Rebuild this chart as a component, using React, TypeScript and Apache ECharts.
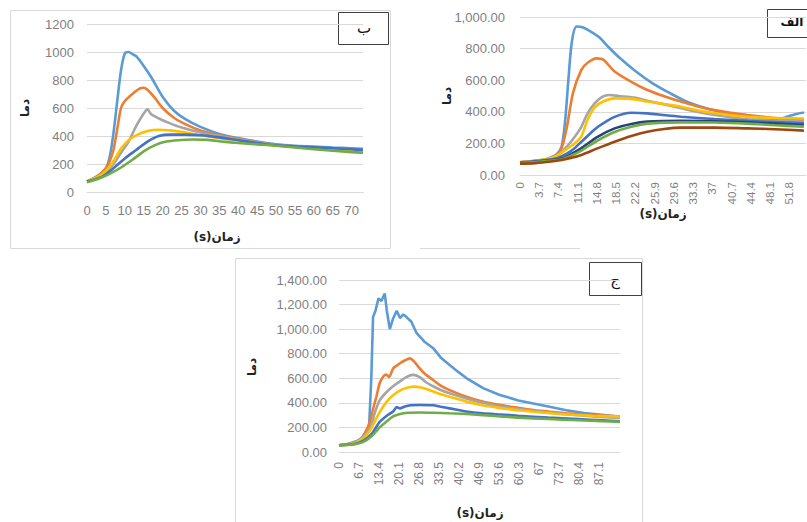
import React, { useEffect, useRef } from "react";
import * as echarts from "echarts";

// ---------- Chart "ب" (top left) ----------
const bTicksX = [0, 5, 10, 15, 20, 25, 30, 35, 40, 45, 50, 55, 60, 65, 70];
const bLightBlue = [[0,75],[3,120],[5,170],[6,250],[7,420],[8,650],[9,870],[10,990],[11,1000],[12,985],[13,970],[15,900],[17,820],[20,680],[23,580],[26,520],[30,465],[35,415],[40,385],[45,360],[50,340],[55,330],[60,325],[65,318],[70,312],[73,308]];
const bOrange = [[0,75],[3,115],[5,170],[6,220],[7,300],[8,450],[9,600],[10,650],[12,700],[14,740],[15,745],[16,730],[18,670],[20,600],[23,530],[26,485],[30,440],[35,405],[40,380],[45,355],[50,335],[55,325],[60,318],[65,305],[70,295],[73,290]];
const bGray = [[0,75],[4,120],[7,200],[9,280],[11,360],[13,470],[15,560],[16,590],[17,555],[19,525],[22,490],[25,460],[30,425],[35,400],[40,375],[45,352],[50,335],[60,318],[70,295],[73,290]];
const bYellow = [[0,75],[3,110],[5,150],[7,220],[9,310],[11,370],[13,405],[16,435],[19,445],[22,440],[25,430],[30,405],[35,385],[40,370],[45,350],[50,332],[60,315],[70,290],[73,285]];
const bBlue = [[0,75],[4,110],[7,170],[10,240],[13,300],[16,360],[19,400],[22,410],[26,410],[30,405],[35,390],[40,370],[45,350],[50,333],[60,320],[70,305],[73,300]];
const bGreen = [[0,70],[3,95],[6,130],[9,175],[12,230],[15,290],[18,335],[21,360],[24,370],[28,375],[32,372],[36,360],[40,350],[45,340],[50,330],[60,305],[70,285],[73,280]];

// ---------- Chart "الف" (top right) ----------
const aLightBlue = [[0,80],[3,85],[5,100],[7,130],[8,180],[8.7,350],[9.3,600],[10,850],[10.9,940],[12,935],[14,900],[15.3,870],[17,810],[19.2,740],[22.3,655],[25.5,580],[29,515],[32,465],[35,430],[38.3,400],[41,385],[44.7,368],[47,358],[49.8,355],[51.5,370],[53,385],[54.6,395]];
const aOrange = [[0,80],[5,100],[7,125],[8,170],[9,300],[10.2,520],[11.8,665],[13,710],[14.7,738],[16,730],[18.2,655],[21.4,590],[24.5,538],[28,495],[31,464],[34,435],[37.4,411],[40.5,393],[43.7,380],[47,368],[50,358],[54.6,348]];
const aGray = [[0,80],[5,100],[7,120],[9,180],[10.5,240],[11.8,305],[13,390],[14.4,455],[15.8,495],[17.2,506],[19,500],[22,490],[24.5,470],[28,445],[31,422],[34,400],[37.4,380],[40.5,366],[43.7,353],[48,345],[54.6,337]];
const aYellow = [[0,80],[5,100],[7,120],[9,165],[10.5,200],[11.8,245],[13,350],[14.4,430],[16,465],[18.2,485],[21.4,482],[24.5,465],[28,448],[31,432],[34,410],[37.4,392],[40.5,378],[43.7,369],[48,362],[54.6,358]];
const aBlue = [[0,80],[5,95],[7,105],[9,135],[10.5,170],[11.8,210],[13.4,260],[15,305],[16.6,340],[18.2,368],[20,388],[21.4,394],[24.5,390],[28,378],[31,369],[37.4,354],[43.7,343],[49,335],[54.6,327]];
const aNavy = [[0,75],[5,90],[8,105],[10,135],[11.8,170],[15,243],[18.2,295],[21.4,323],[24.5,338],[31,343],[37.4,340],[43.7,333],[49,325],[54.6,316]];
const aGreen = [[0,75],[5,88],[8,100],[10,125],[11.8,155],[15,220],[18.2,272],[21.4,305],[24.5,325],[31,333],[37.4,332],[43.7,325],[49,315],[54.6,306]];
const aBrown = [[0,72],[3,75],[6,85],[8,95],[10,110],[11.8,127],[15,170],[18.2,211],[21.4,247],[24.5,274],[27.7,291],[31,300],[37.4,300],[43.7,295],[49,290],[54.6,281]];

// ---------- Chart "ج" (bottom) ----------
const cLightBlue = [[0,55],[3,65],[6,90],[8.6,125],[10,170],[10.8,600],[11.4,1100],[12.2,1150],[13.2,1250],[14.2,1230],[15.3,1290],[16,1150],[17,1000],[18,1080],[19.3,1150],[20.4,1090],[21.5,1120],[22.5,1100],[24.2,1060],[25.9,970],[28.5,900],[31.5,845],[34,770],[37,708],[40,650],[42.6,602],[48.2,520],[53.8,464],[60,420],[65,395],[70,370],[76,340],[82,318],[87,305],[92,292],[94,287]];
const cOrange = [[0,55],[4,70],[7,100],[9,170],[10.5,260],[11.4,350],[12.5,450],[13.6,560],[15,620],[15.8,630],[16.8,610],[18.1,680],[20.4,722],[22,745],[23.7,762],[25,740],[27,681],[29,630],[31.5,586],[34,540],[37,504],[42.6,450],[48,410],[54,382],[60,360],[65,342],[70,330],[76,315],[85,300],[94,290]];
const cGray = [[0,55],[5,75],[8,120],[10.5,200],[12,320],[13.6,420],[16,490],[18.1,535],[20.4,575],[22.5,610],[24.7,628],[27,610],[29,570],[31.5,535],[34,505],[37,478],[42.6,436],[48,400],[54,370],[60,350],[65,335],[76,307],[85,290],[94,277]];
const cYellow = [[0,55],[5,70],[8,110],[10.5,180],[12,250],[13.6,325],[16,410],[18.1,462],[20.4,500],[22.5,520],[25,532],[27.5,525],[29.5,510],[31.5,492],[34,470],[37,450],[42.6,410],[48,380],[54,357],[60,340],[65,328],[76,305],[85,295],[94,288]];
const cBlue = [[0,55],[5,65],[8,90],[11,150],[13.6,245],[16,295],[18.1,330],[19.3,365],[20.4,355],[22,370],[24,380],[27,383],[31.5,380],[34,368],[37,355],[42.6,330],[48,315],[54,305],[60,295],[70,280],[80,268],[88,258],[94,250]];
const cGreen = [[0,55],[5,62],[8,80],[11,130],[13.6,200],[16,250],[18.1,290],[20.4,310],[23,320],[27,322],[31.5,320],[37,315],[42.6,310],[48,300],[54,290],[60,280],[70,268],[80,258],[88,250],[94,245]];

const COLORS = {
  lightBlue: "#5B9BD5",
  orange: "#ED7D31",
  gray: "#A5A5A5",
  gold: "#FFC000",
  blue: "#4472C4",
  green: "#70AD47",
  navy: "#264478",
  brown: "#9E480E",
};

const LABEL_FONT = "Liberation Sans";
const LABEL_COLOR = "#7f7f7f";
const GRID_COLOR = "#d9d9d9";

function fmt2(v: number) {
  return v.toLocaleString("en-US", { minimumFractionDigits: 2, maximumFractionDigits: 2 });
}

function tickLabel(step: number, last: number) {
  return (v: number) => {
    const k = Math.round(v / step);
    if (Math.abs(k * step - v) > 1e-6 || v > last + 1e-6) return "";
    return String(Number(v.toFixed(1)));
  };
}

function line(name: string, data: number[][], color: string, idx: number, smooth: number | boolean = 0.3) {
  return {
    type: "line",
    name,
    data,
    xAxisIndex: idx,
    yAxisIndex: idx,
    symbol: "none",
    smooth,
    lineStyle: { color, width: 2.6 },
    itemStyle: { color },
  };
}

export default function App() {
  const ref = useRef<HTMLDivElement>(null);
  useEffect(() => {
    if (!ref.current) return;
    const chart = echarts.init(ref.current, undefined, { renderer: "svg" });
    const yLabel = { fontFamily: LABEL_FONT, fontSize: 13, color: LABEL_COLOR };
    const splitLine = { show: true, lineStyle: { color: GRID_COLOR, width: 1 } };
    const axisLine = { show: true, lineStyle: { color: GRID_COLOR, width: 1 } };
    const titleStyle = (text: string) => ({
      text,
      font: 'bold 12px "DejaVu Sans"',
      fill: "#222",
      align: "center",
      verticalAlign: "middle",
    });
    chart.setOption({
      animation: false,
      backgroundColor: "#ffffff",
      grid: [
        { left: 87, top: 24, width: 276, height: 168 },
        { left: 520, top: 17, width: 286, height: 158 },
        { left: 339, top: 280, width: 281, height: 172 },
      ],
      xAxis: [
        {
          type: "value", gridIndex: 0, min: 0, max: 73, interval: 5,
          axisLine, axisTick: { show: false }, splitLine: { show: false },
          axisLabel: { ...yLabel, margin: 12, formatter: tickLabel(5, 70) },
        },
        {
          type: "value", gridIndex: 1, min: 0, max: 55, interval: 3.7,
          axisLine, axisTick: { show: false }, splitLine: { show: false },
          axisLabel: { ...yLabel, fontSize: 11.5, rotate: 90, margin: 7, formatter: tickLabel(3.7, 52) },
        },
        {
          type: "value", gridIndex: 2, min: 0, max: 94, interval: 6.7,
          axisLine, axisTick: { show: false }, splitLine: { show: false },
          axisLabel: { ...yLabel, fontSize: 12, rotate: 90, margin: 10, formatter: tickLabel(6.7, 88) },
        },
      ],
      yAxis: [
        {
          type: "value", gridIndex: 0, min: 0, max: 1200, interval: 200,
          axisLine: { show: false }, axisTick: { show: false }, splitLine,
          axisLabel: { ...yLabel, margin: 13, formatter: (v: number) => String(v) },
        },
        {
          type: "value", gridIndex: 1, min: 0, max: 1000, interval: 200,
          axisLine: { show: false }, axisTick: { show: false }, splitLine,
          axisLabel: { ...yLabel, margin: 15, formatter: (v: number) => fmt2(v) },
        },
        {
          type: "value", gridIndex: 2, min: 0, max: 1400, interval: 200,
          axisLine: { show: false }, axisTick: { show: false }, splitLine,
          axisLabel: { ...yLabel, margin: 12, formatter: (v: number) => fmt2(v) },
        },
      ],
      series: [
        line("b1", bLightBlue, COLORS.lightBlue, 0),
        line("b2", bOrange, COLORS.orange, 0),
        line("b3", bGray, COLORS.gray, 0),
        line("b4", bYellow, COLORS.gold, 0),
        line("b5", bBlue, COLORS.blue, 0),
        line("b6", bGreen, COLORS.green, 0),
        line("a1", aLightBlue, COLORS.lightBlue, 1),
        line("a2", aOrange, COLORS.orange, 1),
        line("a3", aGray, COLORS.gray, 1),
        line("a4", aYellow, COLORS.gold, 1),
        line("a5", aBlue, COLORS.blue, 1),
        line("a6", aNavy, COLORS.navy, 1),
        line("a7", aGreen, COLORS.green, 1),
        line("a8", aBrown, COLORS.brown, 1),
        line("c1", cLightBlue, COLORS.lightBlue, 2, false),
        line("c2", cOrange, COLORS.orange, 2, 0.2),
        line("c3", cGray, COLORS.gray, 2),
        line("c4", cYellow, COLORS.gold, 2),
        line("c5", cBlue, COLORS.blue, 2, 0.2),
        line("c6", cGreen, COLORS.green, 2),
      ],
      graphic: [
        // frames
        { type: "rect", shape: { x: 10.5, y: 10.5, width: 380, height: 238 }, style: { fill: "none", stroke: GRID_COLOR, lineWidth: 1 } },
        { type: "line", shape: { x1: 420, y1: 248.5, x2: 580, y2: 248.5 }, style: { stroke: GRID_COLOR, lineWidth: 1 } },
        { type: "rect", shape: { x: 235.5, y: 258.5, width: 407, height: 280 }, style: { fill: "none", stroke: GRID_COLOR, lineWidth: 1 } },
        // label boxes
        { type: "rect", shape: { x: 338.5, y: 12.5, width: 50, height: 32 }, style: { fill: "#fff", stroke: "#404040", lineWidth: 1 } },
        { type: "text", x: 364, y: 28, style: { text: "ب", font: '15px "DejaVu Sans"', fill: "#111", align: "center", verticalAlign: "middle" } },
        { type: "rect", shape: { x: 767.5, y: 9.5, width: 60, height: 28 }, style: { fill: "#fff", stroke: "#404040", lineWidth: 1 } },
        { type: "text", x: 792, y: 22, style: { text: "الف", font: 'bold 12px "DejaVu Sans"', fill: "#111", align: "center", verticalAlign: "middle" } },
        { type: "rect", shape: { x: 589.5, y: 262.5, width: 52, height: 33 }, style: { fill: "#fff", stroke: "#404040", lineWidth: 1 } },
        { type: "text", x: 615, y: 280, style: { text: "ج", font: '15px "DejaVu Sans"', fill: "#111", align: "center", verticalAlign: "middle" } },
        // axis titles
        { type: "text", x: 217, y: 237, style: titleStyle("(s)زمان") },
        { type: "text", x: 663, y: 214, style: titleStyle("(s)زمان") },
        { type: "text", x: 480, y: 513, style: titleStyle("(s)زمان") },
        { type: "text", x: 25, y: 108, rotation: Math.PI / 2, style: titleStyle("دما") },
        { type: "text", x: 447, y: 96, rotation: Math.PI / 2, style: titleStyle("دما") },
        { type: "text", x: 252, y: 367, rotation: Math.PI / 2, style: titleStyle("دما") },
      ],
    });
    return () => chart.dispose();
  }, []);
  return (
    <div
      ref={ref}
      style={{ position: "absolute", left: 0, top: 0, width: 807, height: 522, background: "#fff" }}
    />
  );
}
